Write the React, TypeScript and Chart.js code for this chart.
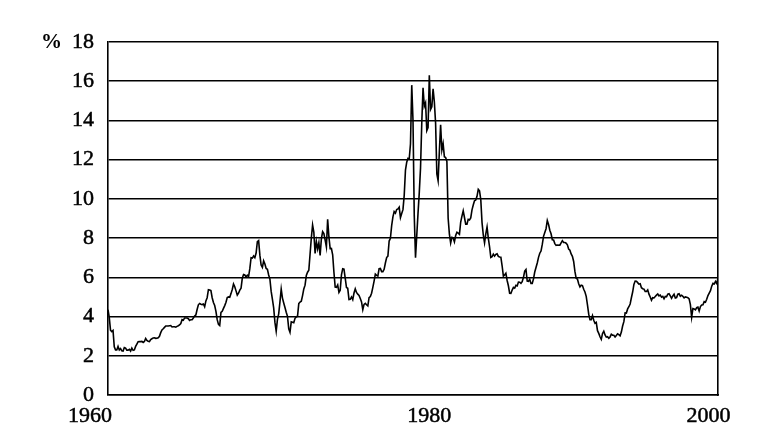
import React, { useEffect, useRef } from "react";
import { Chart, registerables } from "chart.js";

Chart.register(...registerables);

// Monthly rate (%), January 1960 onwards
const startYear = 1960;
const rates1960s = [
  4.35, 3.96, 3.31, 3.23, 3.29, 2.46, 2.30, 2.30, 2.48, 2.30, 2.37, 2.25,
  2.24, 2.42, 2.39, 2.29, 2.29, 2.33, 2.24, 2.39, 2.28, 2.30, 2.48, 2.60,
  2.72, 2.73, 2.72, 2.73, 2.68, 2.73, 2.88, 2.78, 2.74, 2.72, 2.83, 2.87,
  2.91, 2.92, 2.89, 2.90, 2.92, 2.99, 3.18, 3.32, 3.38, 3.45, 3.52, 3.52,
  3.52, 3.53, 3.54, 3.47, 3.48, 3.48, 3.46, 3.50, 3.53, 3.57, 3.64, 3.84,
  3.81, 3.93, 3.93, 3.93, 3.89, 3.80, 3.84, 3.84, 3.92, 4.03, 4.08, 4.36,
  4.60, 4.67, 4.63, 4.61, 4.64, 4.50, 4.80, 4.96, 5.37, 5.35, 5.32, 4.96,
  4.72, 4.56, 4.26, 3.84, 3.60, 3.54, 4.21, 4.27, 4.42, 4.56, 4.73, 4.97,
  5.00, 4.98, 5.17, 5.38, 5.66, 5.52, 5.31, 5.09, 5.19, 5.35, 5.45, 5.96,
  6.14, 6.12, 6.02, 6.11, 6.04, 6.44, 7.00, 6.98, 7.09, 7.00, 7.24, 7.82,
];
const rates1970s = [
  7.87, 7.13, 6.63, 6.51, 6.84, 6.68, 6.45, 6.41, 6.12, 5.91, 5.28, 4.87,
  4.44, 3.70, 3.25, 3.86, 4.14, 4.75, 5.40, 4.94, 4.69, 4.46, 4.22, 4.01,
  3.38, 3.20, 3.73, 3.71, 3.69, 3.91, 3.98, 4.02, 4.66, 4.74, 4.78, 5.07,
  5.41, 5.60, 6.09, 6.26, 6.36, 7.19, 8.01, 8.67, 8.29, 7.22, 7.83, 7.45,
  7.77, 7.12, 7.96, 8.33, 8.23, 7.90, 7.55, 8.96, 8.06, 7.46, 7.47, 7.15,
  6.26, 5.50, 5.49, 5.61, 5.23, 5.34, 6.13, 6.44, 6.42, 5.96, 5.48, 5.44,
  4.87, 4.88, 5.00, 4.86, 5.20, 5.41, 5.23, 5.14, 5.08, 4.92, 4.75, 4.35,
  4.62, 4.67, 4.60, 4.54, 4.96, 5.02, 5.19, 5.49, 5.81, 6.16, 6.10, 6.07,
  6.44, 6.45, 6.29, 6.29, 6.41, 6.73, 7.01, 7.08, 7.85, 7.99, 8.64, 9.08,
  9.35, 9.27, 9.46, 9.49, 9.58, 9.05, 9.26, 9.45, 10.18, 11.47, 11.87, 12.07,
];
const rates1980s = [
  12.04, 12.81, 15.80, 14.00, 9.15, 7.00, 8.13, 9.26, 10.32, 11.58, 13.89, 15.66,
  14.72, 14.90, 13.48, 13.63, 16.30, 14.56, 14.70, 15.61, 14.95, 13.87, 11.27, 10.93,
  12.41, 13.78, 12.49, 12.82, 12.15, 12.11, 11.91, 9.01, 8.20, 7.75, 8.04, 8.01,
  7.81, 8.13, 8.30, 8.25, 8.19, 8.82, 9.12, 9.39, 9.05, 8.71, 8.71, 8.96,
  8.93, 9.03, 9.44, 9.69, 9.90, 9.94, 10.13, 10.49, 10.41, 9.97, 8.79, 8.16,
  7.76, 8.22, 8.57, 8.00, 7.56, 7.01, 7.05, 7.18, 7.08, 7.17, 7.20, 7.07,
  7.04, 7.03, 6.59, 6.06, 6.12, 6.21, 5.84, 5.57, 5.19, 5.18, 5.35, 5.49,
  5.45, 5.59, 5.56, 5.76, 5.75, 5.69, 5.78, 6.00, 6.32, 6.40, 5.81, 5.80,
  5.90, 5.69, 5.69, 5.92, 6.27, 6.50, 6.73, 7.02, 7.23, 7.34, 7.68, 8.09,
  8.29, 8.48, 8.90, 8.70, 8.40, 8.22, 7.92, 7.91, 7.72, 7.63, 7.65, 7.64,
];
const rates1990s = [
  7.64, 7.76, 7.87, 7.78, 7.78, 7.74, 7.66, 7.44, 7.38, 7.19, 7.07, 6.81,
  6.30, 5.95, 5.91, 5.67, 5.51, 5.60, 5.58, 5.39, 5.25, 5.03, 4.60, 4.12,
  3.84, 3.84, 4.05, 3.81, 3.66, 3.70, 3.28, 3.14, 2.97, 2.84, 3.14, 3.25,
  3.06, 2.95, 2.97, 2.89, 2.96, 3.10, 3.05, 3.05, 2.96, 3.04, 3.12, 3.08,
  3.02, 3.21, 3.52, 3.74, 4.19, 4.18, 4.39, 4.50, 4.64, 4.96, 5.25, 5.64,
  5.81, 5.80, 5.73, 5.65, 5.67, 5.47, 5.42, 5.40, 5.28, 5.28, 5.36, 5.14,
  5.00, 4.83, 4.96, 4.95, 5.02, 5.09, 5.15, 5.05, 5.09, 4.99, 5.03, 4.91,
  5.03, 5.01, 5.14, 5.16, 5.05, 4.93, 5.05, 5.14, 4.95, 4.97, 5.14, 5.16,
  5.04, 5.09, 5.03, 4.95, 5.00, 4.98, 4.96, 4.90, 4.61, 3.96, 4.41, 4.39,
  4.34, 4.45, 4.48, 4.28, 4.51, 4.59, 4.60, 4.76, 4.73, 4.88, 5.07, 5.20,
];
const rates2000 = [5.32, 5.55, 5.69, 5.66, 5.79, 5.69, 5.96];

const yTicks = [0, 2, 4, 6, 8, 10, 12, 14, 16, 18];
const xTickYears = [1960, 1980, 2000];
const yUnit = "%";

export default function App() {
  const ref = useRef<HTMLCanvasElement | null>(null);

  useEffect(() => {
    if (!ref.current) return;
    const monthly = [...rates1960s, ...rates1970s, ...rates1980s, ...rates1990s, ...rates2000];
    const points = monthly.map((v, i) => ({ x: startYear + i / 12, y: v }));
    const lastX = startYear + (monthly.length - 1) / 12;
    const family = "'Liberation Serif', 'Times New Roman', serif";
    const labelNudge = [-18, 20, -2];

    const overlay = {
      id: "overlay",
      afterDraw(chart: any) {
        const { ctx, chartArea } = chart;
        const xs = chart.scales.x;
        const ys = chart.scales.y;
        ctx.save();
        ctx.fillStyle = "#000";
        ctx.strokeStyle = "#000";
        ctx.lineWidth = 0.5;
        ctx.font = `22px ${family}`;
        ctx.textAlign = "center";
        ctx.textBaseline = "middle";
        xTickYears.forEach((yr, i) => {
          const px = xs.getPixelForValue(yr) + labelNudge[i];
          const py = chartArea.bottom + 21;
          ctx.fillText(String(yr), px, py);
          ctx.strokeText(String(yr), px, py);
        });
        ctx.font = `bold 21px ${family}`;
        ctx.textAlign = "right";
        ctx.fillText(yUnit, ys.left + 62, ys.getPixelForValue(yTicks[yTicks.length - 1]) + 1);
        ctx.restore();
      },
    };

    const chart = new Chart(ref.current, {
      type: "line",
      data: {
        datasets: [
          {
            data: points,
            borderColor: "#000",
            borderWidth: 1.6,
            pointRadius: 0,
            tension: 0,
            fill: false,
          },
        ],
      },
      options: {
        animation: false,
        responsive: false,
        devicePixelRatio: 1,
        layout: { padding: { top: 42, right: 0, bottom: 0, left: 0 } },
        plugins: { legend: { display: false }, tooltip: { enabled: false } },
        scales: {
          x: {
            type: "linear",
            min: startYear,
            max: lastX,
            grid: { display: false },
            border: { display: true, color: "#000", width: 1.6 },
            ticks: { display: false },
            afterFit: (s: any) => {
              s.height = 52;
            },
          },
          y: {
            min: 0,
            max: 18,
            afterBuildTicks: (s: any) => {
              s.ticks = yTicks.map((v) => ({ value: v }));
            },
            grid: { color: "#000", lineWidth: 1.5, drawTicks: false },
            border: { display: true, color: "#000", width: 1.6 },
            ticks: {
              color: "#000",
              padding: 14,
              font: { family, size: 22 },
              textStrokeColor: "#000",
              textStrokeWidth: 0.5,
            },
            afterFit: (s: any) => {
              s.width = 108;
            },
          },
          yR: {
            position: "right",
            min: 0,
            max: 18,
            grid: { display: false },
            ticks: { display: false },
            border: { display: true, color: "#000", width: 1.6 },
            afterFit: (s: any) => {
              s.width = 40;
            },
          },
        },
      },
      plugins: [overlay],
    } as any);

    return () => chart.destroy();
  }, []);

  return (
    <canvas
      ref={ref}
      width={758}
      height={447}
      style={{ position: "fixed", left: 0, top: 0, width: 758, height: 447 }}
    />
  );
}
